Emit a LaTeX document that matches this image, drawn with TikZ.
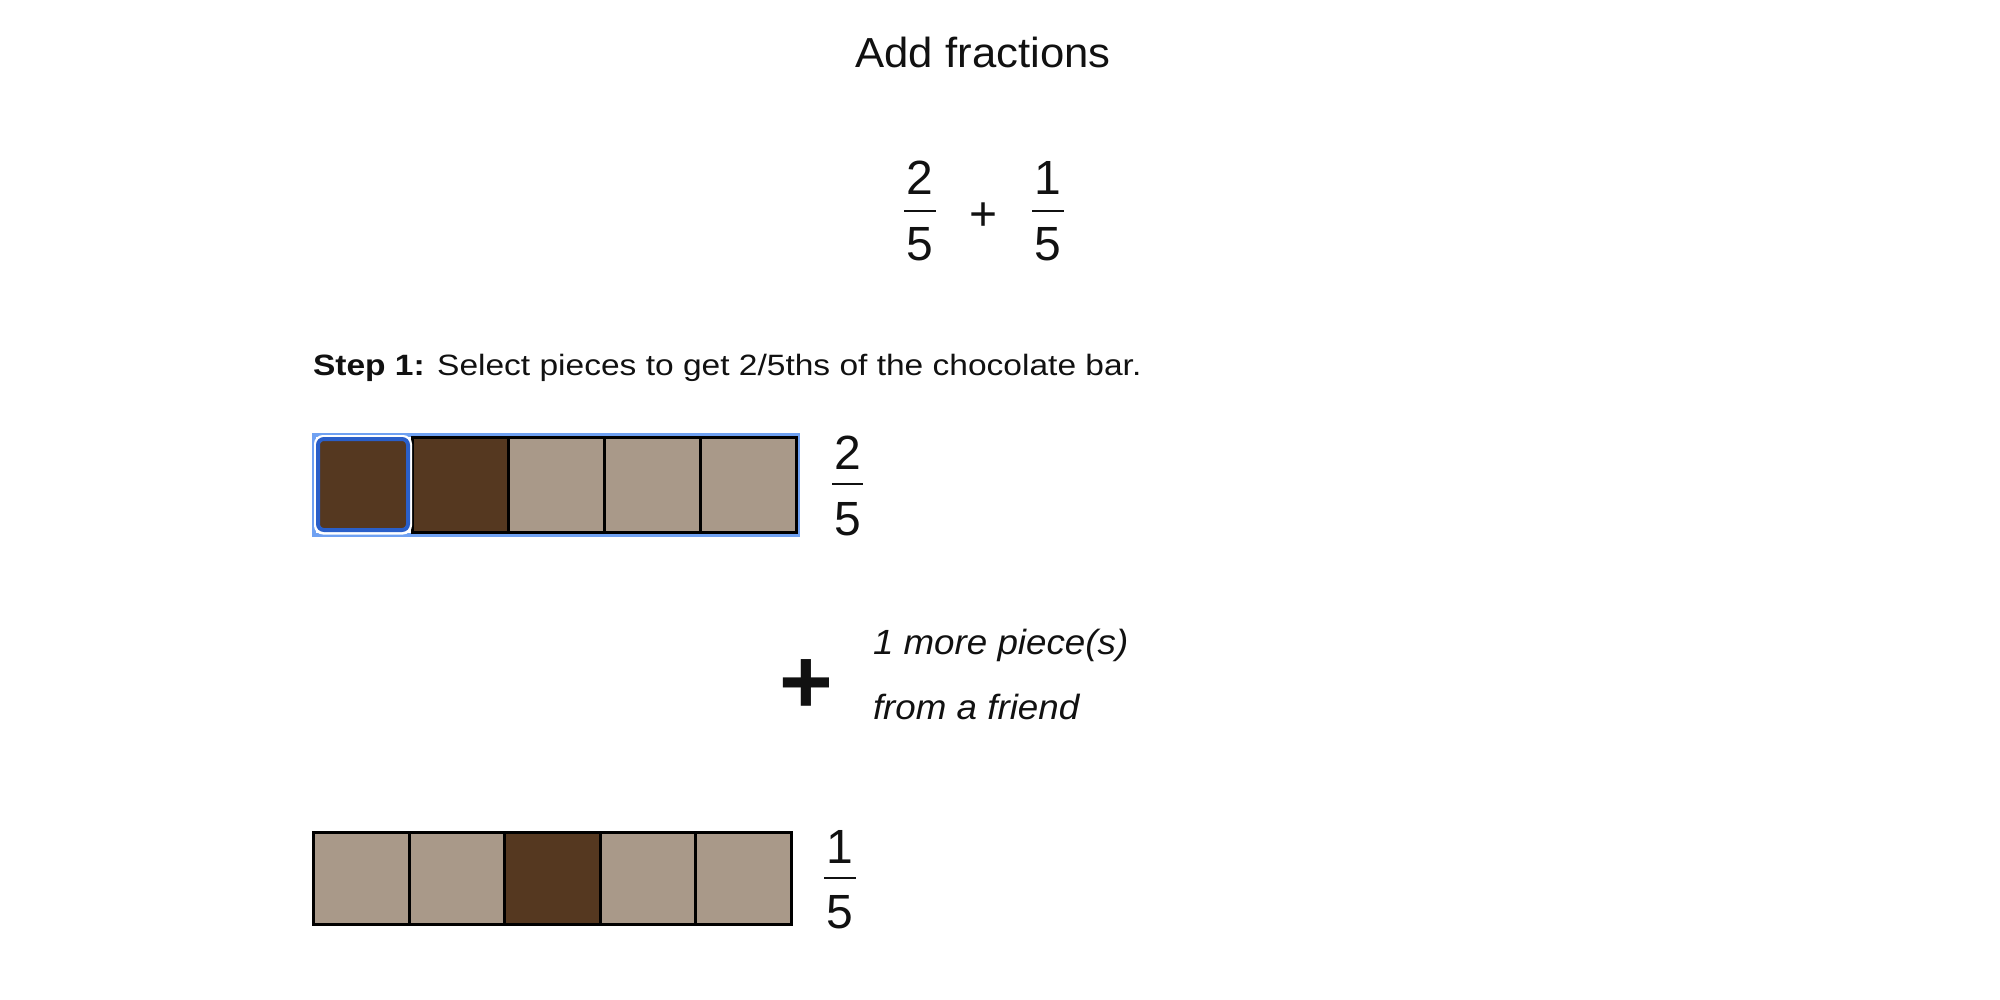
\documentclass[tikz,border=0pt]{standalone}
\usepackage{fontspec}
\setmainfont{Liberation Sans}
\newfontfamily\titlefont[FakeStretch=1.04]{Liberation Sans}
\newfontfamily\stepfont[FakeStretch=1.14]{Liberation Sans}
\newfontfamily\giftfont[FakeStretch=1.05]{Liberation Sans}

\definecolor{choco}{HTML}{553820}
\definecolor{pale}{HTML}{A99989}
\definecolor{selblue}{HTML}{6FA1F2}
\definecolor{ringblue}{HTML}{2A5FC9}
\definecolor{ink}{HTML}{111111}

\begin{document}
\begin{tikzpicture}[x=0.5pt,y=-0.5pt,
  txt/.style={inner sep=0pt,outer sep=0pt,text=ink},
  digit/.style={txt,anchor=base,font=\fontsize{24}{28}\selectfont},
  piece/.style={draw=black,line width=1.5pt},
  fracbar/.style={line width=1pt,ink}]

  \useasboundingbox (0,0) rectangle (2000,1000);

  \node[txt,anchor=base,font=\titlefont\fontsize{21}{25}\selectfont] (title) at (983,68) {Add fractions};

  % the sum
  \node[digit] (suma) at (920,195) {2};
  \node[digit] (sumb) at (920,260) {5};
  \draw[fracbar] (904,211) -- (936,211);

  \node[digit] (sumplus) at (983,231) {+};

  \node[digit] (sumc) at (1048,195) {1};
  \node[digit] (sumd) at (1048,260) {5};
  \draw[fracbar] (1032,211) -- (1064,211);

  \node[txt,anchor=base west,font=\stepfont\fontsize{14.7}{18}\selectfont] (step) at (313,375)
    {\textbf{Step 1:} Select pieces to get 2/5ths of the chocolate bar.};

  % first bar, selected
  \draw[selblue,line width=2pt] (314,435) rectangle (798,535);
  \foreach \i/\c in {1/choco,2/pale,3/pale,4/pale}
    \draw[piece,fill=\c] (316.5+\i*96,437.5) rectangle (412.5+\i*96,532.5);

  \draw[white,line width=1pt,rounded corners=4pt] (315,436) rectangle (411,533.5);
  \draw[ringblue,fill=choco,line width=2pt,rounded corners=3pt] (318,439) rectangle (408,530);

  \node[digit] (mya) at (847.5,469) {2};
  \node[digit] (myb) at (847.5,535) {5};
  \draw[fracbar] (832,484) -- (863,484);

  % the friend's piece
  \node[txt,anchor=base,font=\fontsize{46}{50}\selectfont\bfseries] (more) at (806,713) {+};

  \node[txt,anchor=base west,font=\giftfont\fontsize{17.5}{21}\selectfont\itshape] (gifta) at (873,654) {1 more piece(s)};
  \node[txt,anchor=base west,font=\giftfont\fontsize{17.5}{21}\selectfont\itshape] (giftb) at (873,719) {from a friend};

  % second bar
  \foreach \i/\c in {0/pale,1/pale,2/choco,3/pale,4/pale}
    \draw[piece,fill=\c] (313.5+\i*95.6,832.5) rectangle (409.1+\i*95.6,924.5);

  \node[digit] (frienda) at (840,863) {1};
  \node[digit] (friendb) at (840,928) {5};
  \draw[fracbar] (824,878) -- (856,878);

\end{tikzpicture}
\end{document}
